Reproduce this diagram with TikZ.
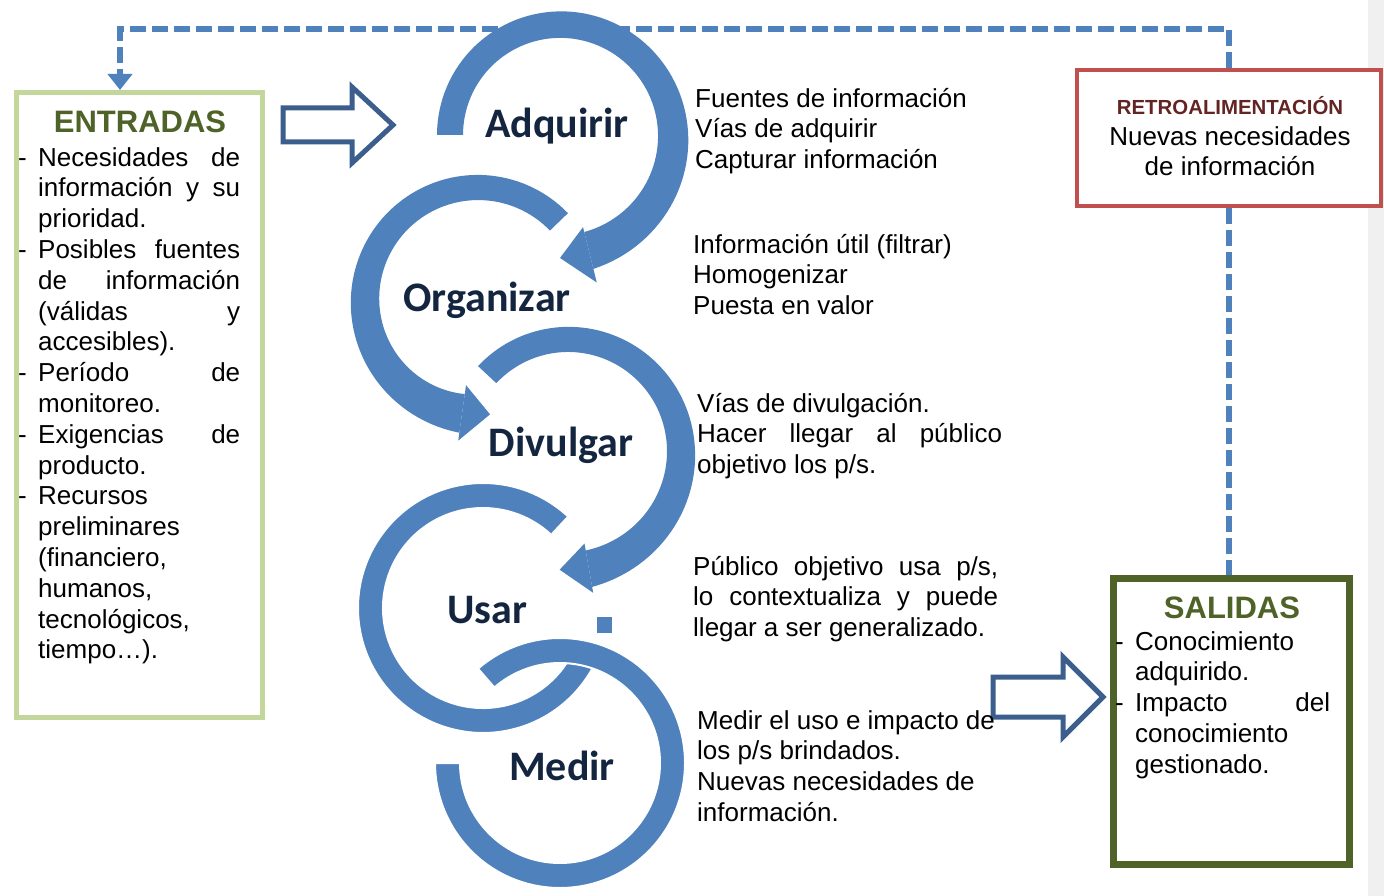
\documentclass[tikz,border=0pt]{standalone}
\usepackage{fontspec}
\setmainfont{Liberation Sans}
\newfontfamily\calib{Carlito}
\usetikzlibrary{calc,arrows.meta}
\definecolor{ringc}{HTML}{4F81BD}
\definecolor{arrowline}{HTML}{3B5E8C}
\definecolor{entrborder}{HTML}{C3D69B}
\definecolor{olivec}{HTML}{4F6228}
\definecolor{retroborder}{HTML}{C0504D}
\definecolor{retrotitle}{HTML}{632523}
\definecolor{labelc}{HTML}{14253F}
\definecolor{stripgray}{HTML}{F0F0F0}
\newcommand{\jl}[2]{\makebox[#1][s]{#2}}
\newcommand{\di}{\strut\makebox[20pt][l]{-}}
\newcommand{\ci}{\strut\hspace*{20pt}}
\tikzset{declare function={fr(\t,\s,\e)=(\t-\s)/(\e-\s); sp(\t,\s,\e,\a,\b)=\a+(\b-\a)*fr(\t,\s,\e)*fr(\t,\s,\e)*fr(\t,\s,\e);}}
% circular ring: cx, cy(tikz), rin, rout, start, end
\newcommand{\ringband}[6]{%
  \filldraw[ringc, draw=white, line width=2pt] (#1,#2) ++(#5:#4) arc[start angle=#5, end angle=#6, radius=#4]
    -- ($(#1,#2)+(#6:#3)$) arc[start angle=#6, end angle=#5, radius=#3] -- cycle;}
% spiral ring: cx cy rin0 rin1 rout0 rout1 start end
\newcommand{\spiralband}[8]{%
  \fill[ringc]
   plot[domain=#7:#8, samples=90, variable=\t] ({#1+sp(\t,#7,#8,#5,#6)*cos(\t)}, {#2+sp(\t,#7,#8,#5,#6)*sin(\t)})
   -- plot[domain=#8:#7, samples=90, variable=\t] ({#1+sp(\t,#7,#8,#3,#4)*cos(\t)}, {#2+sp(\t,#7,#8,#3,#4)*sin(\t)}) -- cycle;}
% head: cx, cy, base angle, base rin, base rout, tip angle, tip r
\newcommand{\ringhead}[7]{%
  \fill[ringc] ($(#1,#2)+(#3:#4)$) -- ($(#1,#2)+(#3:#5)$) -- ($(#1,#2)+(#6:#7)$) -- cycle;}
\tikzset{
  body/.style={font=\fontsize{26}{30.8}\selectfont, inner sep=0pt, align=left, anchor=north west},
  steplabel/.style={font=\calib\bfseries\fontsize{42}{50}\selectfont, text=labelc, inner sep=0pt, anchor=base},
  boxtitle/.style={font=\bfseries\fontsize{31}{36}\selectfont, text=olivec, inner sep=0pt, anchor=base},
  fb/.style={draw=ringc, line width=6pt, dash pattern=on 16pt off 6pt},
  barrow/.style={draw=arrowline, line width=5pt, fill=white, line join=miter},
}
\begin{document}
\begin{tikzpicture}[x=1pt,y=1pt]
\useasboundingbox (0,0) rectangle (1384,-896);
\fill[white] (0,0) rectangle (1384,-896);
\fill[stripgray] (1368,0) rectangle (1384,-896);

% boxes
\node[draw=entrborder, line width=5pt, fill=white, minimum width=246pt, minimum height=625pt, inner sep=0pt] (entr) at (139.5,-405) {};
\node[draw=retroborder, line width=4pt, fill=white, minimum width=304pt, minimum height=136pt, inner sep=0pt] (retro) at (1229,-138) {};
\node[draw=olivec, line width=7pt, fill=white, minimum width=236pt, minimum height=286pt, inner sep=0pt] (sal) at (1231.5,-721.5) {};

% feedback dashed lines
\draw[fb, -{Triangle[width=24pt,length=16pt]}] (retro.north) -- ++(0,39) -| ([xshift=-19.5pt]entr.north);
\draw[fb] (retro.south) -- (retro.south |- sal.north);

% rings
% Usar (under Medir)
\ringband{483}{-608}{100}{125}{47}{338}
\fill[ringc] (597,-617) rectangle (612,-633);
% Medir
\ringband{560}{-763}{100}{125}{131}{-180}
% Adquirir
\spiralband{560}{-135}{97}{100}{123}{138}{180}{-76}
\ringhead{560}{-135}{-76}{95}{152}{-90}{123}
% Organizar
\spiralband{478}{-300}{100}{95}{125}{134}{44}{262}
\ringhead{478}{-300}{262}{86}{142}{276}{115}
% Divulgar
\spiralband{568}{-450}{98}{102}{123}{139}{137}{-80}
\ringhead{568}{-450}{-80}{95}{145}{-94}{120}

% step labels
\node[steplabel] (adq) at (557,-138) {Adquirir};
\node[steplabel] (org) at (487,-311) {Organizar};
\node[steplabel] (div) at (561,-456) {Divulgar};
\node[steplabel] (usa) at (487,-623) {Usar};
\node[steplabel] (med) at (562,-780) {Medir};

% block arrows
\draw[barrow] (283,-108) -- (352,-108) -- (352,-87) -- (393,-125) -- (352,-163) -- (352,-142) -- (283,-142) -- cycle;
\draw[barrow] (993,-677) -- (1063,-677) -- (1063,-657) -- (1103,-697) -- (1063,-737) -- (1063,-717) -- (993,-717) -- cycle;

% ENTRADAS
\node[boxtitle] (entrt) at (140,-133) {ENTRADAS};
\node[body] (entrtxt) at (18,-144.4) {%
\di\jl{202pt}{Necesidades de}\\
\ci\jl{202pt}{información y su}\\
\ci prioridad.\\
\di\jl{202pt}{Posibles fuentes}\\
\ci\jl{202pt}{de información}\\
\ci\jl{202pt}{(válidas y}\\
\ci accesibles).\\
\di\jl{202pt}{Período de}\\
\ci monitoreo.\\
\di\jl{202pt}{Exigencias de}\\
\ci producto.\\
\di Recursos\\
\ci preliminares\\
\ci (financiero,\\
\ci humanos,\\
\ci tecnológicos,\\
\ci tiempo…).};

% step descriptions
\node[body] (t1) at (695,-85.4) {\strut Fuentes de información\\ \strut Vías de adquirir\\ \strut Capturar información};
\node[body] (t2) at (693,-231.4) {\strut Información útil (filtrar)\\ \strut Homogenizar\\ \strut Puesta en valor};
\node[body] (t3) at (697,-390.4) {\strut Vías de divulgación.\\ \strut\jl{305pt}{Hacer llegar al público}\\ \strut objetivo los p/s.};
\node[body] (t4) at (693,-553.4) {\strut\jl{305pt}{Público objetivo usa p/s,}\\ \strut\jl{305pt}{lo contextualiza y puede}\\ \strut llegar a ser generalizado.};
\node[body] (t5) at (697,-707.4) {\strut Medir el uso e impacto de\\ \strut los p/s brindados.\\ \strut Nuevas necesidades de\\ \strut información.};

% RETROALIMENTACION
\node[font=\bfseries\fontsize{20.4}{24}\selectfont, text=retrotitle, inner sep=0pt, anchor=base] (retrot) at (1230,-114.3) {RETROALIMENTACIÓN};
\node[body, align=center, anchor=north] (retrotxt) at (1230,-123.4) {\strut Nuevas necesidades\\ \strut de información};

% SALIDAS
\node[boxtitle] (salt) at (1232,-618) {SALIDAS};
\node[body] (saltxt) at (1115,-628.4) {%
\di Conocimiento\\
\ci adquirido.\\
\di\jl{195pt}{Impacto del}\\
\ci conocimiento\\
\ci gestionado.};
\end{tikzpicture}
\end{document}
